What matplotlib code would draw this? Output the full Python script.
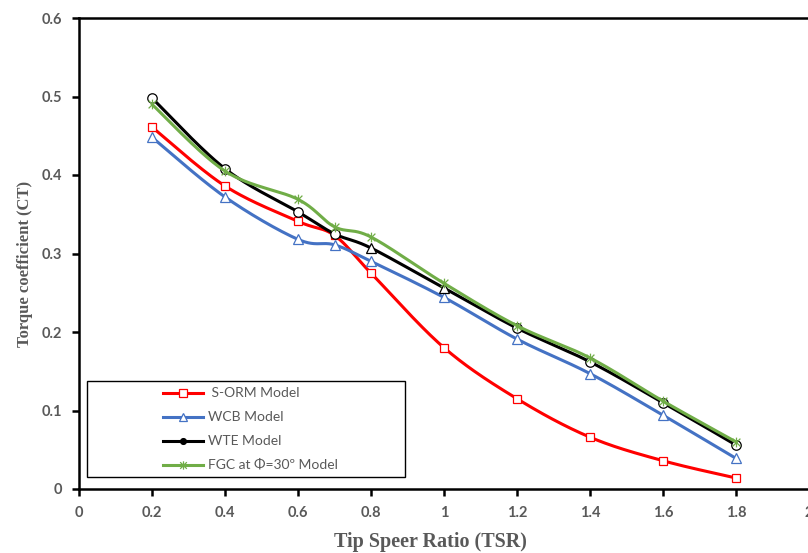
import numpy as np
import matplotlib
matplotlib.use("Agg")
import matplotlib.pyplot as plt
from matplotlib.lines import Line2D
from matplotlib.patches import Rectangle
from matplotlib.path import Path

# ---- data -------------------------------------------------------------
tsr = [0.2, 0.4, 0.6, 0.7, 0.8, 1.0, 1.2, 1.4, 1.6, 1.8]
ct_sorm = [0.461, 0.386, 0.341, 0.323, 0.275, 0.180, 0.115, 0.066, 0.036, 0.014]
ct_wcb = [0.448, 0.372, 0.318, 0.311, 0.290, 0.244, 0.191, 0.147, 0.094, 0.039]
ct_wte = [0.498, 0.408, 0.353, 0.325, 0.307, 0.256, 0.205, 0.162, 0.110, 0.056]
ct_fgc = [0.490, 0.405, 0.369, 0.334, 0.321, 0.262, 0.208, 0.167, 0.112, 0.060]
wte_markers = ['o', 'o', 'o', 'o', '^', '^', 'o', 'o', 'o', 'o']

series_names = ["S-ORM Model", "WCB Model", "WTE Model", "FGC at \u03A6=30\u00BA Model"]
x_ticks = [0, 0.2, 0.4, 0.6, 0.8, 1.0, 1.2, 1.4, 1.6, 1.8, 2.0]
x_tick_labels = ["0", "0.2", "0.4", "0.6", "0.8", "1", "1.2", "1.4", "1.6", "1.8", "2"]
y_ticks = [0, 0.1, 0.2, 0.3, 0.4, 0.5, 0.6]
y_tick_labels = ["0", "0.1", "0.2", "0.3", "0.4", "0.5", "0.6"]

RED = "#FF0000"
BLUE = "#4472C4"
BLACK = "#000000"
GREEN = "#70AD47"
GRAY = "#595959"

W, H = 808, 553
fig = plt.figure(figsize=(W / 100, H / 100), dpi=100)
ax_l, ax_r, ax_t, ax_b = 79, 809, 18, 489
ax = fig.add_axes([ax_l / W, 1 - ax_b / H, (ax_r - ax_l) / W, (ax_b - ax_t) / H])
ax.set_xlim(0, 2)
ax.set_ylim(0, 0.6)

# asterisk marker: X plus a vertical bar
star_path = Path(
    [(-1, -1), (1, 1), (-1, 1), (1, -1), (0, -1.25), (0, 1.25)],
    [Path.MOVETO, Path.LINETO, Path.MOVETO, Path.LINETO, Path.MOVETO, Path.LINETO],
)

# pixel scale of the axes, so the smoothing works in screen space
sx = (ax_r - ax_l) / 2.0
sy = (ax_b - ax_t) / 0.6


def smooth_curve(x, y, n=40):
    p = np.column_stack([np.asarray(x) * sx, np.asarray(y) * sy])
    out = []
    m = len(p)
    for i in range(m - 1):
        p0 = p[i - 1] if i > 0 else p[i]
        p1, p2 = p[i], p[i + 1]
        p3 = p[i + 2] if i + 2 < m else p[i + 1]
        c1 = p1 + (p2 - p0) / 6.0
        c2 = p2 - (p3 - p1) / 6.0
        t = np.linspace(0, 1, n)[:, None]
        seg = ((1 - t) ** 3) * p1 + 3 * ((1 - t) ** 2) * t * c1 + 3 * (1 - t) * t ** 2 * c2 + t ** 3 * p2
        out.append(seg if i == 0 else seg[1:])
    out = np.vstack(out)
    return out[:, 0] / sx, out[:, 1] / sy


lw = 2.2
series = [
    (ct_sorm, RED, ['s'] * len(tsr), 6.2),
    (ct_wcb, BLUE, ['^'] * len(tsr), 7.5),
    (ct_wte, BLACK, wte_markers, 6.8),
    (ct_fgc, GREEN, [star_path] * len(tsr), 7.0),
]
for z, (vals, col, mks, ms) in enumerate(series):
    cx, cy = smooth_curve(tsr, vals)
    ax.plot(cx, cy, color=col, lw=lw, solid_capstyle="round", zorder=2 + z)
    for xv, yv, mk in zip(tsr, vals, mks):
        face = "none" if mk is star_path else "white"
        ax.plot([xv], [yv], marker=mk, ms=ms, mfc=face, mec=col, mew=0.9,
                linestyle="none", zorder=2 + z)

# ---- axes styling -----------------------------------------------------
for side in ("left", "bottom", "top"):
    ax.spines[side].set_linewidth(1.8)
    ax.spines[side].set_color("black")
ax.spines["right"].set_visible(False)

ax.set_xticks(x_ticks)
ax.set_xticklabels(x_tick_labels)
ax.set_yticks(y_ticks)
ax.set_yticklabels(y_tick_labels)
ax.tick_params(axis="both", direction="out", length=5, width=1.8, color="black",
               labelsize=10.5, labelcolor=GRAY, pad=7)
for lab in ax.get_xticklabels() + ax.get_yticklabels():
    lab.set_fontfamily("Lato")
    lab.set_fontweight("bold")

fig.text(430 / W, 1 - 542 / H, "Tip Speer Ratio (TSR)", ha="center", va="center",
         fontsize=14.5, color=GRAY, family="Liberation Serif", fontweight="bold")
fig.text(25 / W, 1 - 264 / H, "Torque coefficient (CT)", ha="center", va="center",
         rotation=90, fontsize=12, color=GRAY, family="Liberation Serif", fontweight="bold")

# ---- legend box -------------------------------------------------------
def fx(px):
    return px / W


def fy(py):
    return 1 - py / H


fig.patches.append(Rectangle((fx(87), fy(477)), fx(405) - fx(87), fy(381) - fy(477),
                             transform=fig.transFigure, fill=True, facecolor="white",
                             edgecolor="black", linewidth=1.0, zorder=10))
rows = [393, 417, 441, 465]
leg_markers = ['s', '^', 'o', star_path]
leg_ms = [5.2, 6.0, 4.2, 6.0]
leg_cols = [RED, BLUE, BLACK, GREEN]
for name, ry, mk, ms, col in zip(series_names, rows, leg_markers, leg_ms, leg_cols):
    fig.lines.append(Line2D([fx(163), fx(203)], [fy(ry), fy(ry)], transform=fig.transFigure,
                            color=col, lw=lw, zorder=11))
    face = "none" if mk is star_path else ("black" if mk == 'o' else "white")
    fig.lines.append(Line2D([fx(183)], [fy(ry)], transform=fig.transFigure, marker=mk, ms=ms,
                            mfc=face, mec=col, mew=0.9, linestyle="none", zorder=12))
    label = (" " + name) if name.startswith("S-") else name
    fig.text(fx(208), fy(ry), label, ha="left", va="center", fontsize=10, color=GRAY,
             family=["Lato", "DejaVu Sans"], zorder=13)

fig.savefig("out.png", dpi=100)
